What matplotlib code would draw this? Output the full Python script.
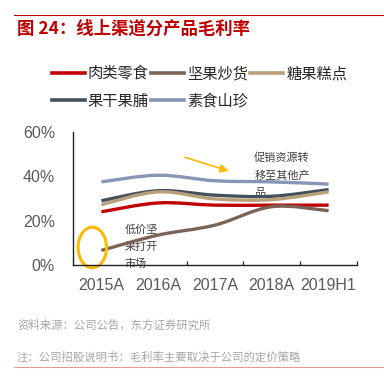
import matplotlib
matplotlib.use("Agg")
import matplotlib.pyplot as plt
from matplotlib.path import Path
from matplotlib.patches import PathPatch, Ellipse
from matplotlib.lines import Line2D

plt.rcParams['font.family'] = ['Noto Sans CJK SC', 'DejaVu Sans']

# data (gross margin, %)
years = ['2015A', '2016A', '2017A', '2018A', '2019H1']
meat = [24.0, 28.0, 27.0, 27.0, 27.0]        # 肉类零食
nuts = [6.6, 13.5, 18.0, 26.3, 24.5]         # 坚果炒货
candy = [27.2, 33.0, 29.8, 29.5, 33.0]       # 糖果糕点
dried = [29.0, 33.5, 31.5, 31.0, 34.0]       # 果干果脯
veg = [37.5, 40.5, 38.0, 37.5, 36.5]         # 素食山珍
y_ticks = [0, 20, 40, 60]

series = [
    ('肉类零食', meat, '#C00000'),
    ('坚果炒货', nuts, '#7B6358'),
    ('糖果糕点', candy, '#B8A07A'),
    ('果干果脯', dried, '#44505E'),
    ('素食山珍', veg, '#8796B5'),
]

note_top = ['促销资源转', '移至其他产', '品']
note_low = ['低价坚', '果打开', '市场']


def smooth_path(xs, ys):
    """Catmull-Rom style bezier through the points (like Excel smoothed lines)."""
    pts = list(zip(xs, ys))
    n = len(pts)
    verts = [pts[0]]
    codes = [Path.MOVETO]
    for i in range(n - 1):
        p0 = pts[i - 1] if i > 0 else pts[i]
        p1 = pts[i]
        p2 = pts[i + 1]
        p3 = pts[i + 2] if i + 2 < n else pts[i + 1]
        c1 = (p1[0] + (p2[0] - p0[0]) / 6, p1[1] + (p2[1] - p0[1]) / 6)
        c2 = (p2[0] - (p3[0] - p1[0]) / 6, p2[1] - (p3[1] - p1[1]) / 6)
        verts += [c1, c2, p2]
        codes += [Path.CURVE4] * 3
    return Path(verts, codes)


fig = plt.figure(figsize=(3.84, 3.80), dpi=100)
ax = fig.add_axes([73 / 384, 1 - 265 / 380, 284 / 384, 133 / 380])

x = list(range(len(years)))
lw = 2.4
draw_order = [4, 3, 2, 0, 1]
for idx in draw_order:
    name, vals, col = series[idx]
    ax.add_patch(PathPatch(smooth_path(x, vals), facecolor='none', edgecolor=col,
                           lw=lw, capstyle='butt', zorder=3))

ax.set_xlim(-0.5, len(years) - 0.5)
ax.set_ylim(0, 60)
ax.set_yticks(y_ticks)
ax.set_yticklabels([f'{v}%' for v in y_ticks], family='Liberation Sans',
                   fontsize=11.5, color='#595959')
ax.set_xticks(x)
ax.set_xticklabels(years, family='Liberation Sans', fontsize=11.5, color='#595959')
ax.set_xticks([i + 0.5 for i in range(len(years))], minor=True)
ax.tick_params(axis='x', which='major', length=0, pad=9)
ax.tick_params(axis='x', which='minor', direction='in', length=3, width=0.9, color='#222222')
ax.tick_params(axis='y', length=0, pad=13)
for s in ['top', 'right']:
    ax.spines[s].set_visible(False)
for s in ['left', 'bottom']:
    ax.spines[s].set_color('#222222')
    ax.spines[s].set_linewidth(1.0)
    ax.spines[s].set_zorder(5)

# annotations
ax.add_patch(Ellipse((-0.16, 7.9), 0.5, 18.3, facecolor='none', edgecolor='#FFB800',
                     lw=2.2, clip_on=False, zorder=4))
ax.annotate('', xy=(2.24, 42.4), xytext=(1.47, 48.6),
            arrowprops=dict(arrowstyle='-|>', color='#FFB800', lw=1.2,
                            mutation_scale=12, shrinkA=0, shrinkB=0))
for i, line in enumerate(note_top):
    ax.text(2.69, 48.5 - 8.0 * i, line, fontsize=8, color='#404040',
            va='center', ha='left', zorder=2)
for i, line in enumerate(note_low):
    ax.text(0.41, 16.1 - 7.8 * i, line, fontsize=8, color='#404040',
            va='center', ha='left', zorder=2, clip_on=False)

# legend: rows 肉类/坚果/糖果, 果干/素食
order = [0, 3, 1, 4, 2]
handles = [Line2D([], [], color=series[i][2], lw=2.6) for i in order]
labels = [series[i][0] for i in order]
fig.legend(handles, labels, ncol=3, loc='upper left', bbox_to_anchor=(52 / 384, 1 - 65 / 380),
           frameon=False, fontsize=11, handlelength=2.15, handletextpad=0.2,
           columnspacing=0.15, labelspacing=0.7, borderpad=0, borderaxespad=0,
           labelcolor='#262626')

# title, rules and notes
fig.add_artist(Line2D([14 / 384, 1], [1 - 15 / 380] * 2, color='#C00000', lw=0.8))
fig.text(17 / 384, 1 - 29 / 380, '图 24：线上渠道分产品毛利率', fontsize=12.5, fontweight='bold',
         color='#C00000', va='center', ha='left')
fig.text(17 / 384, 1 - 325 / 380, '资料来源：公司公告，东方证券研究所', fontsize=8.2,
         color='#A6A6A6', va='center', ha='left')
fig.text(17 / 384, 1 - 357 / 380, '注：公司招股说明书：毛利率主要取决于公司的定价策略', fontsize=8.2,
         color='#A6A6A6', va='center', ha='left')
fig.add_artist(Line2D([14 / 384, 1], [1 - 367 / 380] * 2, color='#E39A9A', lw=0.8))

fig.savefig('out.png', dpi=100)
